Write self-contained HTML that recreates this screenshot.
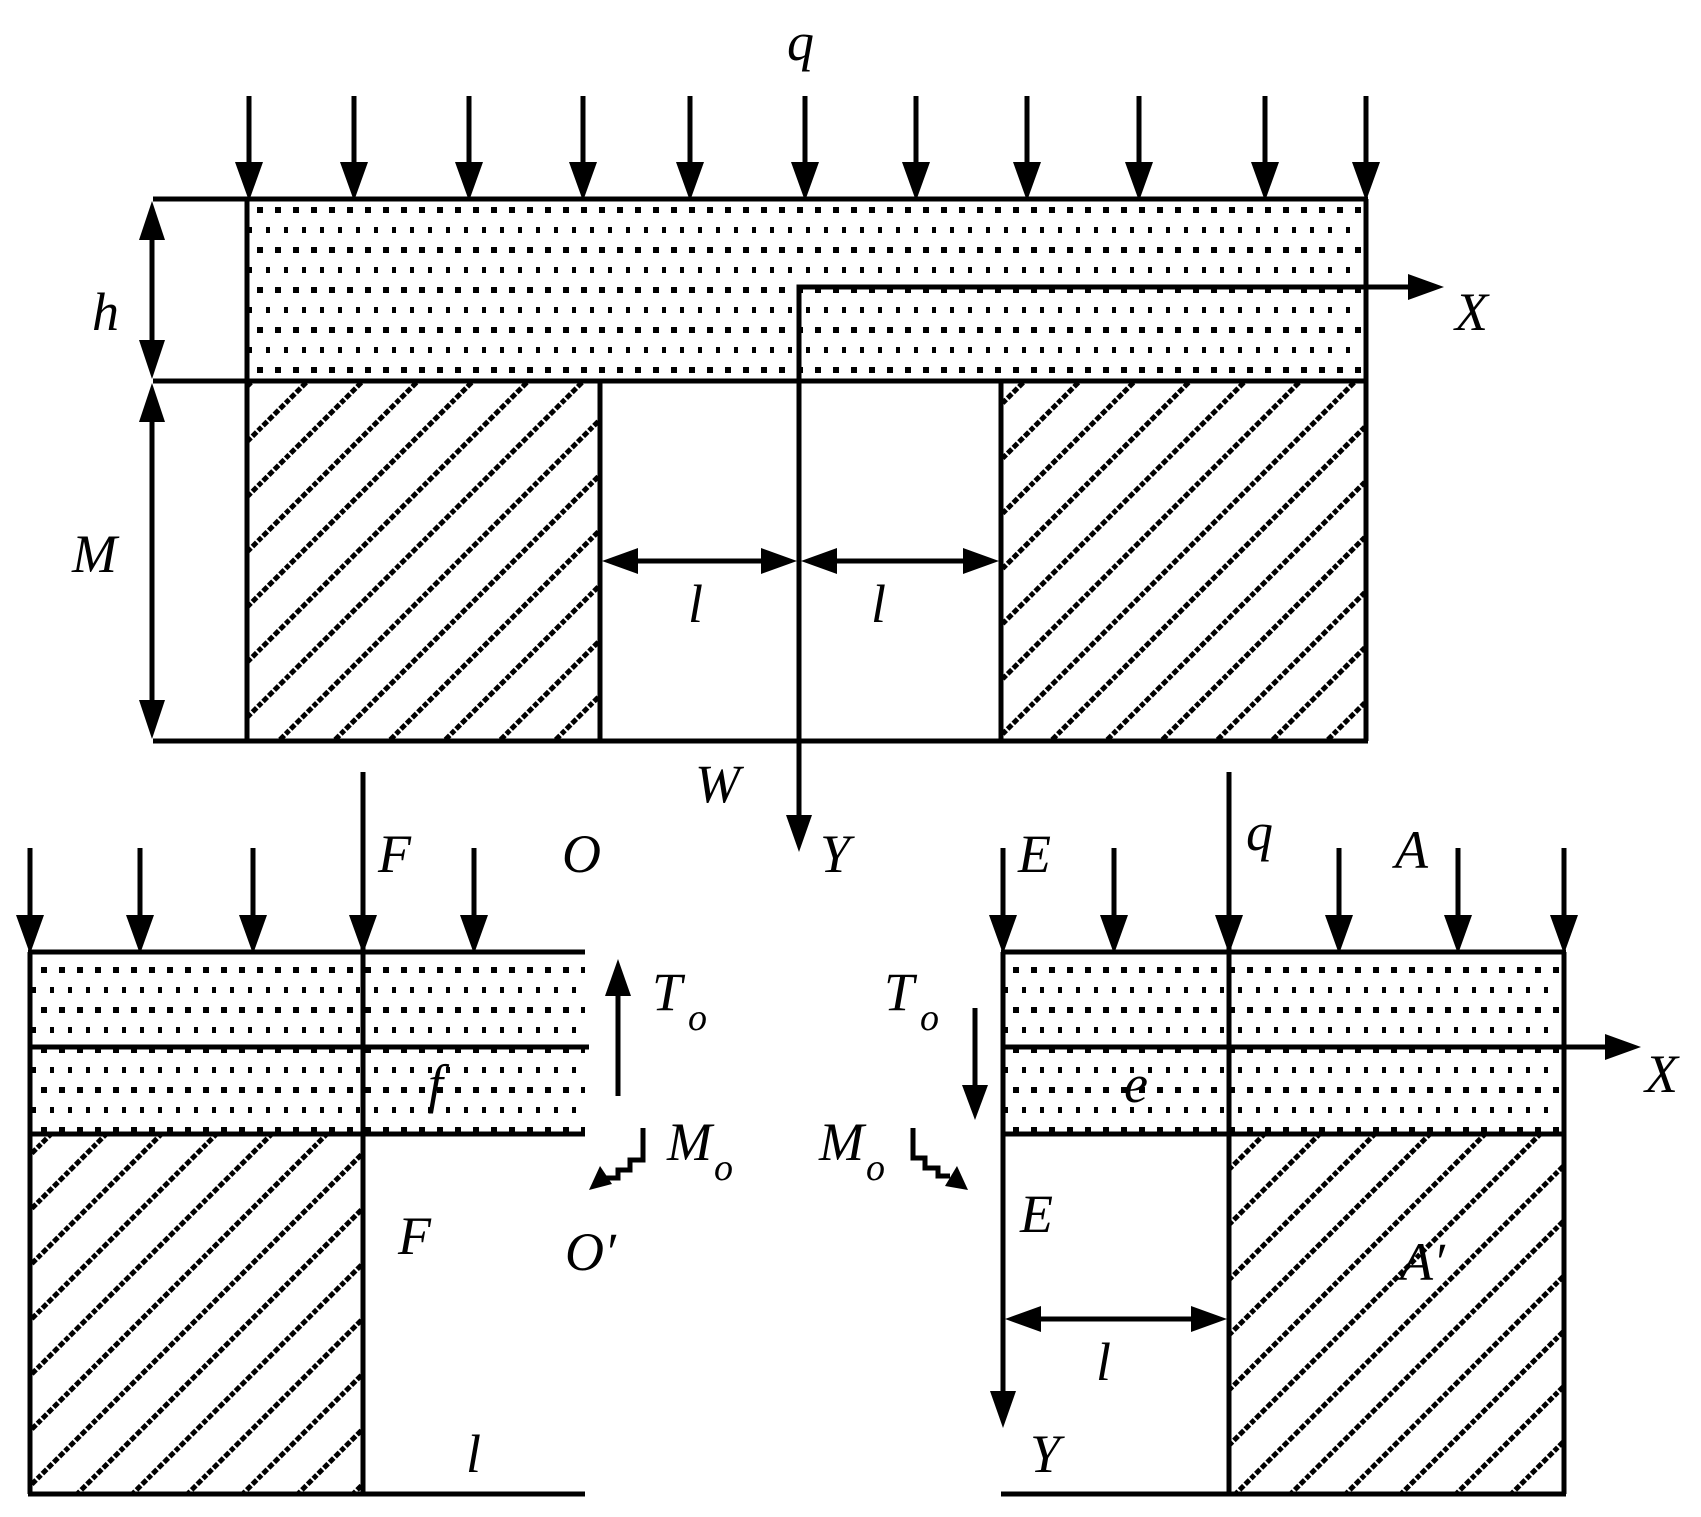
<!DOCTYPE html>
<html><head><meta charset="utf-8"><style>
html,body{margin:0;padding:0;background:#fff}
svg text{font-family:"Liberation Serif","Times New Roman",serif;font-style:italic;font-size:54px;fill:#000}
</style></head><body>
<svg width="1701" height="1512" viewBox="0 0 1701 1512" xmlns="http://www.w3.org/2000/svg">
<defs>
<pattern id="dots" x="0" y="0" width="18" height="40" patternUnits="userSpaceOnUse">
<rect x="5" y="7" width="6" height="6" fill="#000"/>
<rect x="14" y="27" width="6" height="6" fill="#000"/>
</pattern>
<pattern id="hatch" x="0" y="0" width="39" height="39" patternUnits="userSpaceOnUse" patternTransform="rotate(45)">
<line x1="19" y1="-1" x2="19" y2="40" stroke="#000" stroke-width="5" stroke-dasharray="6 2"/>
</pattern>
</defs>
<g stroke="#000" stroke-width="5" fill="none">
<rect x="247" y="201" width="1119" height="180" fill="url(#dots)" stroke="none"/>
<rect x="247" y="383" width="353" height="358" fill="url(#hatch)" stroke="none"/>
<rect x="1001" y="383" width="365" height="358" fill="url(#hatch)" stroke="none"/>
<line x1="153" y1="199" x2="1368" y2="199"/>
<line x1="153" y1="381" x2="1368" y2="381"/>
<line x1="153" y1="741" x2="1368" y2="741"/>
<line x1="247" y1="199" x2="247" y2="741"/>
<line x1="1366" y1="199" x2="1366" y2="741"/>
<line x1="600" y1="381" x2="600" y2="741"/>
<line x1="1001" y1="381" x2="1001" y2="741"/>
<line x1="152" y1="215" x2="152" y2="365"/>
<line x1="152" y1="397" x2="152" y2="725"/>
<polyline points="799,830 799,287 1420,287"/>
<line x1="615" y1="561" x2="785" y2="561"/>
<line x1="813" y1="561" x2="985" y2="561"/>
<rect x="30" y="954" width="555" height="180" fill="url(#dots)" stroke="none"/>
<rect x="30" y="1136" width="333" height="358" fill="url(#hatch)" stroke="none"/>
<line x1="28" y1="952" x2="585" y2="952"/>
<line x1="28" y1="1047" x2="589" y2="1047"/>
<line x1="28" y1="1134" x2="585" y2="1134"/>
<line x1="28" y1="1494" x2="585" y2="1494"/>
<line x1="30" y1="952" x2="30" y2="1494"/>
<line x1="363" y1="772" x2="363" y2="1494"/>
<line x1="618" y1="1096" x2="618" y2="985"/>
<polyline points="643,1128 643,1160 630,1160 630,1170 618,1170 618,1178 605,1178"/>
<rect x="1003" y="954" width="561" height="180" fill="url(#dots)" stroke="none"/>
<rect x="1229" y="1136" width="335" height="358" fill="url(#hatch)" stroke="none"/>
<line x1="1001" y1="952" x2="1566" y2="952"/>
<line x1="1001" y1="1047" x2="1618" y2="1047"/>
<line x1="1001" y1="1134" x2="1566" y2="1134"/>
<line x1="1001" y1="1494" x2="1566" y2="1494"/>
<line x1="1003" y1="952" x2="1003" y2="1405"/>
<line x1="1229" y1="772" x2="1229" y2="1494"/>
<line x1="1564" y1="952" x2="1564" y2="1494"/>
<line x1="1019" y1="1319" x2="1213" y2="1319"/>
<line x1="975" y1="1008" x2="975" y2="1095"/>
<polyline points="913,1128 913,1158 925,1158 925,1168 938,1168 938,1176 950,1176"/>
</g>
<g stroke="#000" stroke-width="5">
<line x1="249" y1="96" x2="249" y2="180"/><line x1="354" y1="96" x2="354" y2="180"/>
<line x1="469" y1="96" x2="469" y2="180"/><line x1="583" y1="96" x2="583" y2="180"/>
<line x1="690" y1="96" x2="690" y2="180"/><line x1="805" y1="96" x2="805" y2="180"/>
<line x1="916" y1="96" x2="916" y2="180"/><line x1="1027" y1="96" x2="1027" y2="180"/>
<line x1="1139" y1="96" x2="1139" y2="180"/><line x1="1265" y1="96" x2="1265" y2="180"/>
<line x1="1366" y1="96" x2="1366" y2="180"/>
<line x1="30" y1="848" x2="30" y2="930"/><line x1="140" y1="848" x2="140" y2="930"/>
<line x1="253" y1="848" x2="253" y2="930"/><line x1="474" y1="848" x2="474" y2="930"/>
<line x1="1003" y1="848" x2="1003" y2="930"/><line x1="1114" y1="848" x2="1114" y2="930"/>
<line x1="1339" y1="848" x2="1339" y2="930"/><line x1="1458" y1="848" x2="1458" y2="930"/>
<line x1="1564" y1="848" x2="1564" y2="930"/>
</g>
<g fill="#000">
<path d="M235,162 L263,162 L249,201 Z"/><path d="M340,162 L368,162 L354,201 Z"/>
<path d="M455,162 L483,162 L469,201 Z"/><path d="M569,162 L597,162 L583,201 Z"/>
<path d="M676,162 L704,162 L690,201 Z"/><path d="M791,162 L819,162 L805,201 Z"/>
<path d="M902,162 L930,162 L916,201 Z"/><path d="M1013,162 L1041,162 L1027,201 Z"/>
<path d="M1125,162 L1153,162 L1139,201 Z"/><path d="M1251,162 L1279,162 L1265,201 Z"/>
<path d="M1352,162 L1380,162 L1366,201 Z"/>
<path d="M16,915 L44,915 L30,954 Z"/><path d="M126,915 L154,915 L140,954 Z"/>
<path d="M239,915 L267,915 L253,954 Z"/><path d="M349,915 L377,915 L363,954 Z"/>
<path d="M460,915 L488,915 L474,954 Z"/>
<path d="M989,915 L1017,915 L1003,954 Z"/><path d="M1100,915 L1128,915 L1114,954 Z"/>
<path d="M1215,915 L1243,915 L1229,954 Z"/><path d="M1325,915 L1353,915 L1339,954 Z"/>
<path d="M1444,915 L1472,915 L1458,954 Z"/><path d="M1550,915 L1578,915 L1564,954 Z"/>
<path d="M152,201 L139,240 L165,240 Z"/><path d="M152,379 L139,340 L165,340 Z"/>
<path d="M152,383 L139,422 L165,422 Z"/><path d="M152,739 L139,700 L165,700 Z"/>
<path d="M1444,287 L1408,274 L1408,300 Z"/><path d="M799,852 L786,815 L812,815 Z"/>
<path d="M602,561 L638,548 L638,574 Z"/><path d="M797,561 L761,548 L761,574 Z"/>
<path d="M801,561 L837,548 L837,574 Z"/><path d="M999,561 L963,548 L963,574 Z"/>
<path d="M618,959 L605,996 L631,996 Z"/>
<path d="M589,1190 L600,1166 L612,1184 Z"/>
<path d="M1641,1047 L1605,1034 L1605,1060 Z"/>
<path d="M1003,1428 L990,1391 L1016,1391 Z"/>
<path d="M1005,1319 L1041,1306 L1041,1332 Z"/><path d="M1227,1319 L1191,1306 L1191,1332 Z"/>
<path d="M975,1120 L962,1085 L988,1085 Z"/>
<path d="M968,1190 L945,1186 L957,1166 Z"/>
</g>
<g>
<text x="787" y="60">q</text>
<text x="92" y="330">h</text>
<text x="72" y="572">M</text>
<text x="1455" y="330">X</text>
<text x="688" y="622">l</text>
<text x="871" y="622">l</text>
<text x="695" y="802">W</text>
<text x="820" y="872">Y</text>
<text x="378" y="872">F</text>
<text x="562" y="872">O</text>
<text x="652" y="1010">T</text><text x="688" y="1030" style="font-size:38px">o</text>
<text x="428" y="1102">f</text>
<text x="667" y="1160">M</text><text x="714" y="1180" style="font-size:38px">o</text>
<text x="398" y="1254">F</text>
<text x="565" y="1270">O′</text>
<text x="466" y="1472">l</text>
<text x="1018" y="872">E</text>
<text x="1246" y="850">q</text>
<text x="1395" y="868">A</text>
<text x="884" y="1010">T</text><text x="920" y="1030" style="font-size:38px">o</text>
<text x="1124" y="1102">e</text>
<text x="819" y="1160">M</text><text x="866" y="1180" style="font-size:38px">o</text>
<text x="1645" y="1092">X</text>
<text x="1020" y="1232">E</text>
<text x="1400" y="1280">A′</text>
<text x="1096" y="1380">l</text>
<text x="1030" y="1472">Y</text>
</g>
</svg>
</body></html>
